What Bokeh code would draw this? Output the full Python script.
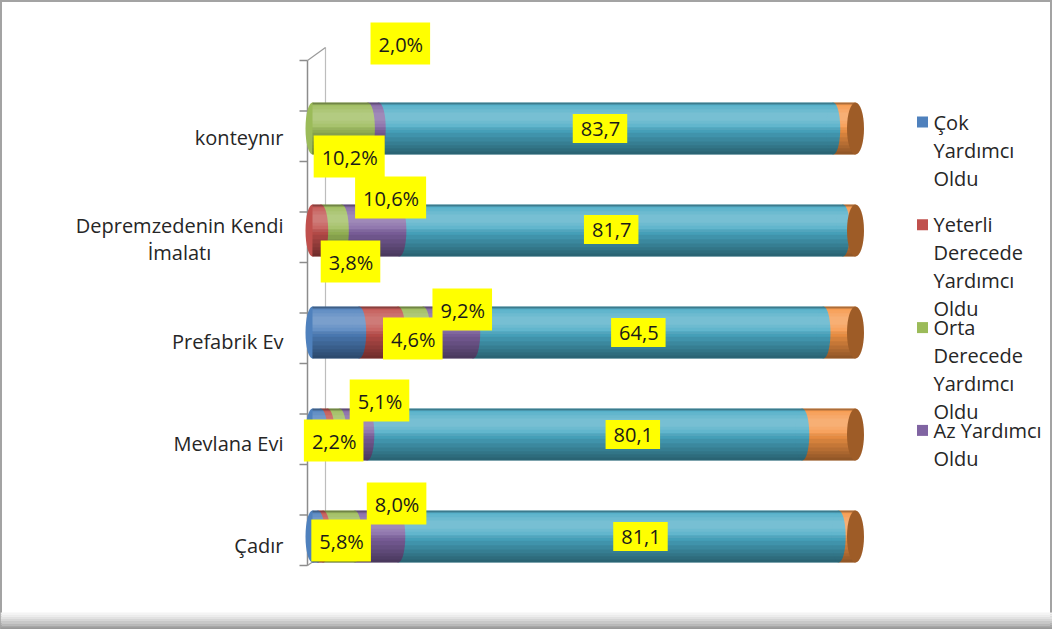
import numpy as np
from bokeh.plotting import figure
from bokeh.models import Range1d, ColumnDataSource
from bokeh.embed import file_html
from bokeh.resources import INLINE
from bokeh.core.properties import value

# ---------------- data ----------------
categories = ["Çadır", "Mevlana Evi", "Prefabrik Ev", "Depremzedenin Kendi İmalatı", "konteynır"]
series_names = ["Çok Yardımcı Oldu", "Yeterli Derecede Yardımcı Oldu",
                "Orta Derecede Yardımcı Oldu", "Az Yardımcı Oldu", "Seri5", "Seri6"]
cok = [1.0, 1.5, 8.6, 0.0, 0.0]
yeterli = [1.0, 1.3, 7.2, 1.6, 0.0]
orta = [5.8, 2.2, 4.6, 3.8, 10.2]
az = [8.0, 5.1, 9.2, 10.6, 2.0]
seri5 = [81.1, 80.1, 64.5, 81.7, 83.7]
seri6 = [3.1, 9.8, 5.9, 2.3, 4.1]
series_values = [cok, yeterli, orta, az, seri5, seri6]
legend_count = 4          # only the first four entries are visible in the legend

# ---------------- style / layout ----------------
series_colors = ["#4F81BD", "#C0504D", "#9BBB59", "#8064A2", "#4BACC6", "#F79646"]
cap_color = "#9E5C27"
FONT = value("Open Sans")

W, H = 1052, 629
X0, PXU = 312.0, 5.43      # px of value 0, px per percent
YC0, PXC = 536.0, 102.0    # px of first category centre, px per category


def xv(px):
    return (px - X0) / PXU


def yv(py):
    return (YC0 - py) / PXC


def dxv(d):
    return d / PXU


def dyv(d):
    return -d / PXC


def wrap(text, width):
    out, cur = [], ""
    for w in text.split():
        cand = (cur + " " + w).strip()
        if len(cand) > width and cur:
            out.append(cur)
            cur = w
        else:
            cur = cand
    out.append(cur)
    return out


BAR_H = 52 / PXC
idx = list(range(len(categories)))

p = figure(width=W, height=H,
           x_range=Range1d(xv(0), xv(W)),
           y_range=Range1d(yv(H), yv(0)),
           x_axis_type=None, y_axis_type=None, min_border=0,
           toolbar_location=None, output_backend="svg",
           outline_line_color="#A3A3A3", outline_line_width=3,
           background_fill_color="white", border_fill_color="white")

# ---------------- 3D axis wall lines ----------------
ax_top, ax_bot, ax_x, back_x = 60, 565, 307, 325
p.segment(x0=[xv(ax_x)], y0=[yv(ax_top)], x1=[xv(ax_x)], y1=[yv(ax_bot)],
          line_color="#8C8C8C", line_width=1.5)
p.segment(x0=[xv(back_x)], y0=[yv(47)], x1=[xv(back_x)], y1=[yv(552)],
          line_color="#BDBDBD", line_width=1.2)
p.segment(x0=[xv(ax_x), xv(ax_x)], y0=[yv(ax_top), yv(ax_bot)],
          x1=[xv(back_x), xv(back_x - 8)], y1=[yv(47), yv(558)],
          line_color="#9A9A9A", line_width=1.2)
tick_y = np.linspace(yv(ax_bot), yv(ax_top), 2 * len(categories) + 1)
p.segment(x0=xv(299), y0=tick_y, x1=xv(ax_x), y1=tick_y, line_color="#8C8C8C", line_width=1.5)

# ---------------- cylinders ----------------
vals = np.array(series_values, dtype=float)          # series x categories
cum_end = np.cumsum(vals, axis=0)
cum_start = cum_end - vals
totals = cum_end[-1]

# left rounded end
first_col = [series_colors[int(np.argmax(vals[:, i] > 0))] for i in idx]
p.ellipse(x=[0.0] * len(idx), y=idx, width=14, width_units="screen", height=BAR_H,
          fill_color=first_col, line_color=None)

for k, color in enumerate(series_colors):
    src = ColumnDataSource(dict(y=idx, left=list(cum_start[k]), right=list(cum_end[k])))
    p.hbar(y="y", left="left", right="right", height=BAR_H, source=src,
           fill_color=color, line_color=None)

# curved boundaries (drawn right-to-left so each left segment overlaps the next)
for k in reversed(range(len(series_colors) - 1)):
    ys = [i for i in idx if vals[k, i] > 0]
    xs = [cum_end[k, i] for i in ys]
    p.ellipse(x=xs, y=ys, width=14, width_units="screen", height=BAR_H,
              fill_color=series_colors[k], line_color=None)

# cylinder shading: nested translucent bands (t = 0 top edge, 1 bottom edge)
bands = []   # (t_top, t_bottom, colour, alpha)
for t in [0.48, 0.58, 0.67, 0.75, 0.82, 0.88, 0.94]:
    bands.append((t, 1.0, "black", 0.07))
for h in [0.52, 0.40, 0.28, 0.16]:
    bands.append((0.27 - h / 2, 0.27 + h / 2, "white", 0.07))
bands.append((0.0, 0.04, "black", 0.30))

sy, sh, sr, sc, sa = [], [], [], [], []
for i in idx:
    for (t0, t1, c, a) in bands:
        t0 = max(t0, 0.0)
        tm = (t0 + t1) / 2
        sy.append(i + BAR_H / 2 - tm * BAR_H)
        sh.append((t1 - t0) * BAR_H)
        sr.append(totals[i])
        sc.append(c)
        sa.append(a)
p.hbar(y=sy, height=sh, left=0, right=sr, fill_color=sc, fill_alpha=sa, line_color=None)

# flat end face
p.ellipse(x=list(totals), y=idx, width=17, width_units="screen", height=BAR_H,
          fill_color=cap_color, line_color=None)

# ---------------- data labels ----------------
label_offsets = {   # series index -> per-category (dx, dy) screen px from segment centre
    2: [(2, 4), (0, 6), (2, 6), (19, 31), (9, 28)],
    3: [(20, -33), (26, -34), (14, -23), (20, -33), (27, -85)],
    4: [(22, 0), (48, 0), (-10, 0), (-10, -1), (-6, 0)],
}
lx, ly, lt = [], [], []
for k, offs in label_offsets.items():
    for i in idx:
        v = vals[k, i]
        txt = f"{v:.1f}".replace(".", ",")
        if k in (2, 3):
            txt += "%"
        mid = (cum_start[k, i] + cum_end[k, i]) / 2
        lx.append(mid + dxv(offs[i][0]))
        ly.append(i + dyv(offs[i][1]))
        lt.append(txt)
p.text(x=lx, y=ly, text=lt, text_font=FONT, text_font_size="20px",
       text_align="center", text_baseline="middle", text_color="#1A1A1A",
       background_fill_color="#FFFF00", padding=(8, 7, 8, 7))

# ---------------- category labels ----------------
cx, cy, ct, ca = [], [], [], []
for i, name in enumerate(categories):
    lines = wrap(name, 20)
    if len(lines) == 1:
        cx.append(xv(283)); cy.append(i + dyv(9)); ct.append(lines[0]); ca.append("right")
    else:
        cx.append(xv(283)); cy.append(i + dyv(-5)); ct.append(lines[0]); ca.append("right")
        for n, ln in enumerate(lines[1:]):
            cx.append(xv(179)); cy.append(i + dyv(22 + 28 * n)); ct.append(ln); ca.append("center")
p.text(x=cx, y=cy, text=ct, text_align=ca, text_baseline="middle",
       text_font=FONT, text_font_size="20px", text_color="#262626")

# ---------------- legend ----------------
LEG_Y0, LEG_DY, LEG_LINE = 121.5, 102.8, 28.0
mx, my, mc, tx, ty, tt = [], [], [], [], [], []
for k in range(legend_count):
    y0 = LEG_Y0 + LEG_DY * k
    mx.append(xv(922)); my.append(yv(y0)); mc.append(series_colors[k])
    for n, ln in enumerate(wrap(series_names[k], 11)):
        tx.append(xv(933)); ty.append(yv(y0 + LEG_LINE * n)); tt.append(ln)
p.scatter(x=mx, y=my, marker="square", size=11, fill_color=mc, line_color=None)
p.text(x=tx, y=ty, text=tt, text_align="left", text_baseline="middle",
       text_font=FONT, text_font_size="20px", text_color="#262626")

# ---------------- bottom bevel of the chart frame ----------------
bev = ["#F4F4F4", "#ECECEC", "#E2E2E2", "#D6D6D6", "#C8C8C8", "#B8B8B8", "#A8A8A8", "#999999"]
b_edges = np.linspace(612, H, len(bev) + 1)
p.quad(left=xv(0), right=xv(W), top=[yv(e) for e in b_edges[:-1]],
       bottom=[yv(e) for e in b_edges[1:]], fill_color=bev, line_color=None)

open("out.html", "w").write(file_html(p, INLINE))
